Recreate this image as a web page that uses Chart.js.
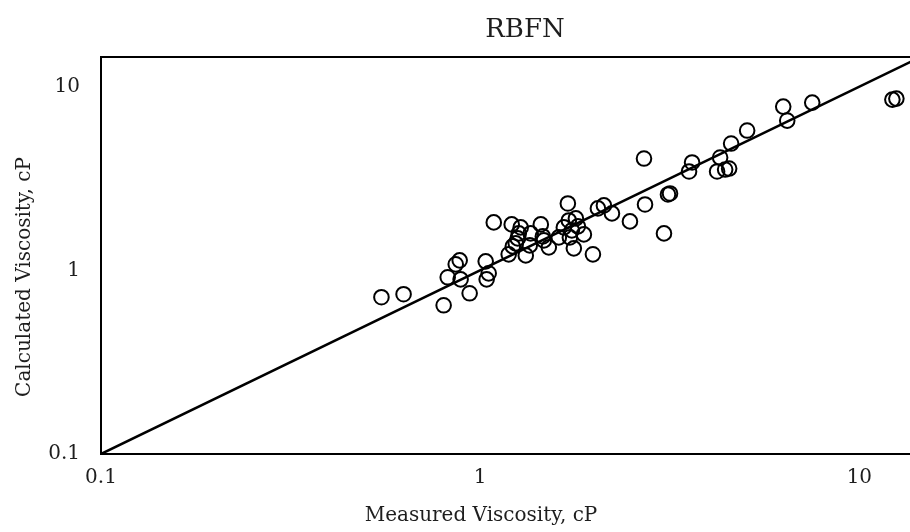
<!DOCTYPE html>
<html>
<head>
<meta charset="utf-8">
<title>RBFN</title>
<script src="https://cdn.jsdelivr.net/npm/chart.js@4/dist/chart.umd.min.js"></script>
<style>
  body { margin: 0; background: #fff; }
  #wrap { width: 910px; height: 532px; }
</style>
</head>
<body>
<div id="wrap"><canvas id="grafico"></canvas></div>
<script>
// measured vs calculated viscosity (cP)
const medido = [0.549, 0.628, 0.801, 0.938, 0.821, 0.862, 0.883, 0.888, 1.034, 1.053,
  1.040, 1.086, 1.189, 1.211, 1.219, 1.241, 1.256, 1.264, 1.279, 1.319,
  1.351, 1.359, 1.445, 1.463, 1.472, 1.517, 1.612, 1.703, 1.662, 1.713,
  1.745, 1.724, 1.766, 1.788, 1.810, 1.877, 1.983, 2.044, 2.120, 2.226,
  2.483, 2.721, 2.704, 3.053, 3.128, 3.167, 3.555, 3.621, 4.215, 4.293,
  4.426, 4.535, 4.590, 5.059, 6.298, 6.453, 7.511, 12.22, 12.52];
const calculado = [0.714, 0.741, 0.645, 0.750, 0.916, 1.078, 1.133, 0.893, 1.119, 0.963,
  0.893, 1.823, 1.222, 1.778, 1.350, 1.402, 1.492, 1.589, 1.713, 1.206,
  1.367, 1.589, 1.778, 1.530, 1.455, 1.334, 1.511, 2.313, 1.713, 1.869,
  1.650, 1.511, 1.317, 1.917, 1.735, 1.569, 1.222, 2.173, 2.256, 2.041,
  1.846, 2.284, 4.061, 1.589, 2.588, 2.621, 3.452, 3.864, 3.452, 4.113,
  3.538, 3.583, 4.900, 5.767, 7.785, 6.535, 8.185, 8.500, 8.607];
const lineaIdeal = [0.1, 20];
const ticksX = [0.1, 1, 10];
const ticksY = [0.1, 1, 10];

const fuente = "'DejaVu Serif', 'Liberation Serif', serif";
const colorTexto = "#1e1e1e";

const puntos = medido.map((v, i) => ({ x: v, y: calculado[i] }));
const linea = lineaIdeal.map(v => ({ x: v, y: v }));

// marco del area (sin lado derecho, queda fuera del recorte) y textos
const marco = {
  id: "marco",
  afterDraw(chart) {
    const { ctx, chartArea: a } = chart;
    ctx.save();
    ctx.strokeStyle = "#000";
    ctx.lineWidth = 2;
    ctx.beginPath();
    ctx.moveTo(chart.width, a.top);
    ctx.lineTo(a.left, a.top);
    ctx.lineTo(a.left, a.bottom);
    ctx.lineTo(chart.width, a.bottom);
    ctx.stroke();
    ctx.fillStyle = colorTexto;
    ctx.textAlign = "center";
    ctx.textBaseline = "middle";
    ctx.font = "26px " + fuente;
    ctx.fillText("RBFN", 525, 30);
    ctx.font = "20px " + fuente;
    ctx.fillText("Measured Viscosity, cP", 481, 516);
    ctx.translate(25, 277);
    ctx.rotate(-Math.PI / 2);
    ctx.fillText("Calculated Viscosity, cP", 0, 0);
    ctx.restore();
  }
};

new Chart(document.getElementById("grafico"), {
  data: {
    datasets: [{
      type: "scatter",
      data: puntos,
      pointStyle: "circle",
      pointRadius: 7.3,
      pointHoverRadius: 7.3,
      backgroundColor: "rgba(0,0,0,0)",
      borderColor: "#000",
      borderWidth: 2
    }, {
      type: "line",
      data: linea,
      borderColor: "#000",
      borderWidth: 2.5,
      pointRadius: 0
    }]
  },
  options: {
    responsive: true,
    maintainAspectRatio: false,
    animation: false,
    layout: { autoPadding: false, padding: { top: 57, left: 0, right: 0, bottom: 0 } },
    plugins: {
      legend: { display: false },
      tooltip: { enabled: false },
      title: { display: false }
    },
    scales: {
      x: {
        type: "logarithmic",
        min: 0.1,
        max: 13.6,
        grid: { display: false },
        border: { display: false },
        afterBuildTicks: (s) => { s.ticks = ticksX.map(v => ({ value: v })); },
        afterFit: (s) => { s.height = 78; },
        ticks: {
          color: colorTexto,
          padding: 4,
          maxRotation: 0,
          autoSkip: false,
          font: { family: fuente, size: 20 },
          callback: (v) => String(v)
        }
      },
      y: {
        type: "logarithmic",
        min: 0.1,
        max: 14.5,
        grid: { display: false },
        border: { display: false },
        afterBuildTicks: (s) => { s.ticks = ticksY.map(v => ({ value: v })); },
        afterFit: (s) => { s.width = 101; },
        ticks: {
          color: colorTexto,
          padding: 13,
          autoSkip: false,
          font: { family: fuente, size: 20 },
          callback: (v) => String(v)
        }
      }
    }
  },
  plugins: [marco]
});
</script>
</body>
</html>
